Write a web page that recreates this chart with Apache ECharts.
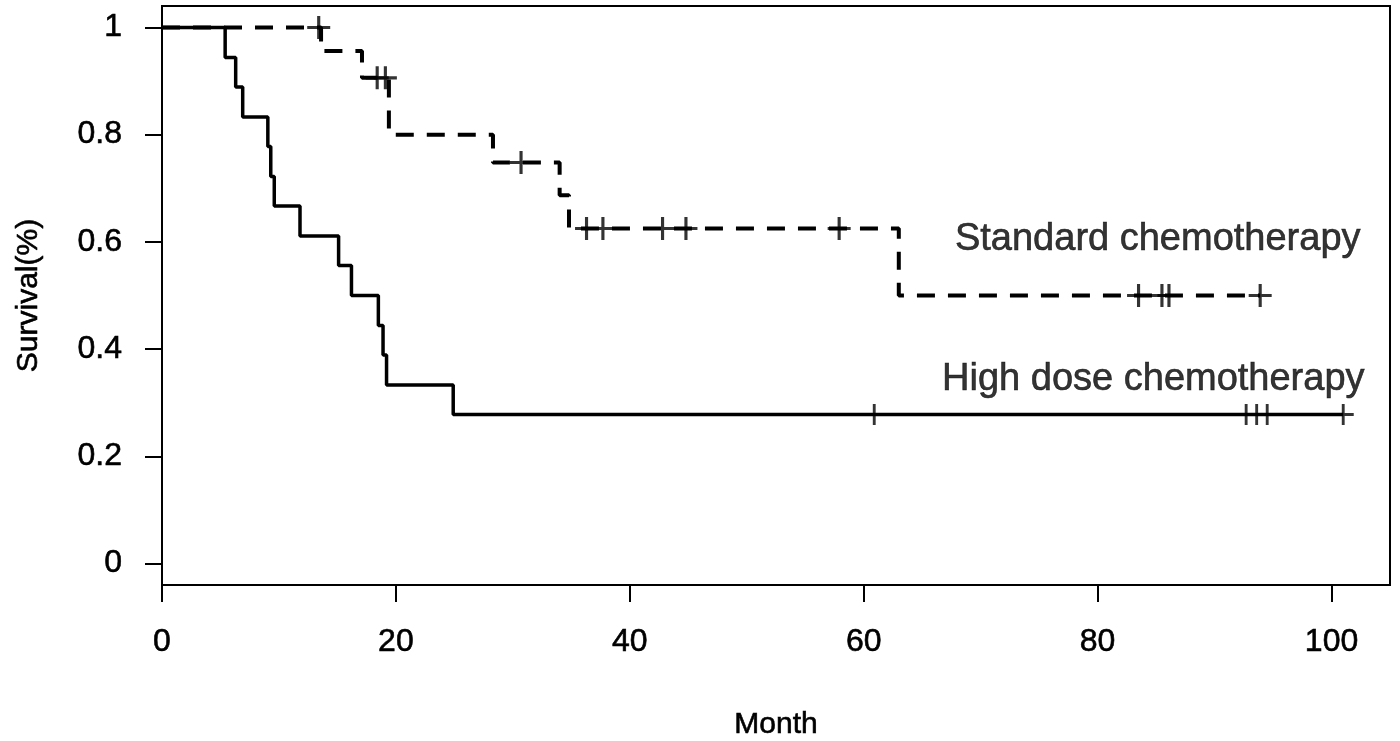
<!DOCTYPE html>
<html>
<head>
<meta charset="utf-8">
<script src="https://cdn.jsdelivr.net/npm/echarts@6/dist/echarts.min.js"></script>
<style>html,body{margin:0;padding:0;background:#fff}#c{width:1400px;height:741px}</style>
</head>
<body>
<div id="c"></div>
<script>
// ---- data ----
var highEventTimes = [5.4, 6.3, 6.9, 9.05, 9.3, 9.6, 11.8, 15.1, 16.2, 18.5, 18.9, 19.2, 24.9];
var highSurvival   = [0.944, 0.889, 0.833, 0.778, 0.722, 0.667, 0.611, 0.556, 0.5, 0.444, 0.389, 0.333, 0.278];
var highCensorTimes = [60.9, 92.7, 93.6, 94.5, 101];

var stdEventTimes = [13.6, 17.1, 19.4, 28.3, 34.0, 34.8, 63.0];
var stdSurvival   = [0.956, 0.906, 0.80, 0.748, 0.687, 0.625, 0.5];
var stdCensorTimes = [13.4, 18.4, 19.1, 30.7, 36.3, 37.7, 42.8, 44.8, 57.9, 83.5, 85.5, 86.1, 93.9];

var xTicks = [0, 20, 40, 60, 80, 100];
var yTicks = [0, 0.2, 0.4, 0.6, 0.8, 1];

var curveLabels = [
  { name: 'Standard chemotherapy', x: 67.8, y: 0.604 },
  { name: 'High dose chemotherapy', x: 66.7, y: 0.343 }
];

// ---- helpers: build Kaplan-Meier step path from event times ----
function survAt(times, surv, t) {
  var s = 1;
  for (var i = 0; i < times.length; i++) { if (times[i] <= t) s = surv[i]; }
  return s;
}
function stepPath(times, surv, endT) {
  var pts = [[0, 1]], prev = 1;
  for (var i = 0; i < times.length; i++) {
    pts.push([times[i], prev]);
    pts.push([times[i], surv[i]]);
    prev = surv[i];
  }
  pts.push([endT, prev]);
  return pts;
}
function censorPts(times, evT, surv) {
  return times.map(function (t) { return [t, survAt(evT, surv, t)]; });
}

var highEnd = Math.max.apply(null, highCensorTimes.concat(highEventTimes));
var stdEnd = Math.max.apply(null, stdCensorTimes.concat(stdEventTimes));

var plusPath = 'path://M-1.5,-11 h3 v9.5 h9.5 v3 h-9.5 v9.5 h-3 v-9.5 h-9.5 v-3 h9.5 z';
var FONT = '"Liberation Sans", Arial, sans-serif';
var TXT = { fontFamily: FONT, color: '#000', textBorderColor: '#000', textBorderWidth: 0.6 };
function txt(extra) { var o = {}; for (var k in TXT) o[k] = TXT[k]; for (var k2 in extra) o[k2] = extra[k2]; return o; }

var chart = echarts.init(document.getElementById('c'), null, { renderer: 'canvas' });
chart.setOption({
  animation: false,
  backgroundColor: '#fff',
  grid: { left: 162, right: 10, top: 6, bottom: 156, containLabel: false, outerBoundsMode: 'none',
    show: true, borderColor: '#000', borderWidth: 2, backgroundColor: 'transparent' },
  xAxis: {
    type: 'value', min: 0, max: 105,
    name: 'Month', nameLocation: 'middle', nameGap: 125,
    nameTextStyle: txt({ fontSize: 30 }),
    axisLine: { show: false, onZero: false },
    splitLine: { show: false },
    axisTick: { show: true, length: 17, lineStyle: { color: '#000', width: 2 }, customValues: xTicks },
    axisLabel: txt({ fontSize: 32, margin: 41, customValues: xTicks })
  },
  yAxis: {
    type: 'value', min: -0.04, max: 1.04,
    name: 'Survival(%)', nameLocation: 'middle', nameGap: 118, nameRotate: 90,
    nameTextStyle: txt({ fontSize: 30 }),
    axisLine: { show: false, onZero: false },
    splitLine: { show: false },
    axisTick: { show: true, length: 17, lineStyle: { color: '#000', width: 2 }, customValues: yTicks },
    axisLabel: txt({ fontSize: 32, margin: 40, customValues: yTicks })
  },
  series: [
    {
      name: 'Standard chemotherapy', type: 'line', showSymbol: false, silent: true,
      data: stepPath(stdEventTimes, stdSurvival, stdEnd),
      lineStyle: { color: '#000', width: 4, type: [18, 13] }
    },
    {
      name: 'High dose chemotherapy', type: 'line', showSymbol: false, silent: true,
      data: stepPath(highEventTimes, highSurvival, highEnd),
      lineStyle: { color: '#000', width: 3.5, type: 'solid' }
    },
    {
      type: 'scatter', silent: true, symbol: plusPath, symbolSize: 23,
      itemStyle: { color: '#000' },
      data: censorPts(stdCensorTimes, stdEventTimes, stdSurvival)
    },
    {
      type: 'scatter', silent: true, symbol: plusPath, symbolSize: 21,
      itemStyle: { color: '#000' },
      data: censorPts(highCensorTimes, highEventTimes, highSurvival)
    },
    {
      type: 'scatter', silent: true, symbolSize: 0,
      data: curveLabels.map(function (d) { return { name: d.name, value: [d.x, d.y] }; }),
      label: txt({ show: true, position: 'right', distance: 0, formatter: '{b}', fontSize: 38 })
    }
  ]
});
</script>
</body>
</html>
